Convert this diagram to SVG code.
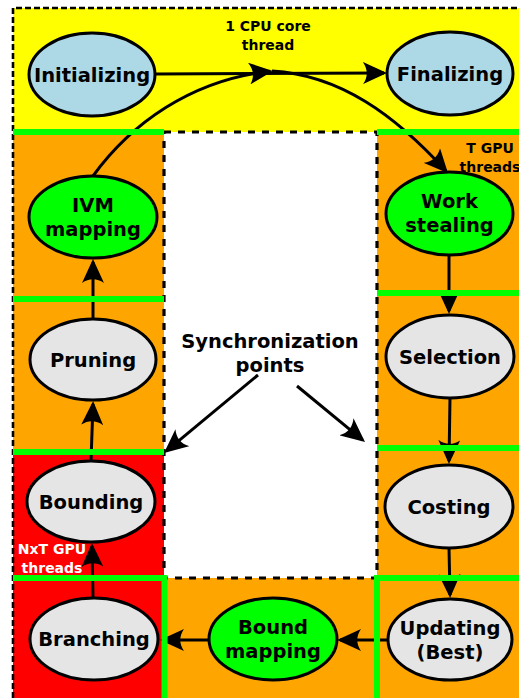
<svg xmlns="http://www.w3.org/2000/svg" width="519" height="698" viewBox="0 0 519 698">
<style>
.node{stroke:#000;stroke-width:3}
.blue{fill:#add8e6}
.grn{fill:#00ff00}
.gray{fill:#e5e5e5}
.lbl{font-family:"DejaVu Sans",Verdana,sans-serif;font-weight:bold;font-size:19.5px;text-anchor:middle;fill:#000}
.small{font-family:"DejaVu Sans",Verdana,sans-serif;font-weight:bold;font-size:14px;text-anchor:middle}
.edge{fill:none;stroke:#000;stroke-width:3;marker-end:url(#ah)}
.dash-outer{fill:none;stroke:#000;stroke-width:2.6;stroke-dasharray:6,3}
.dash-inner{fill:none;stroke:#000;stroke-width:3.2;stroke-dasharray:7,7}
.gl{stroke:#00ff00;stroke-width:6;fill:none}
</style>
<defs>
<marker id="ah" markerUnits="userSpaceOnUse" viewBox="0 0 24 22" refX="21" refY="11" markerWidth="24" markerHeight="22" orient="auto">
<path d="M24,11 L0,0 C5,7 5,15 0,22 Z" fill="#000"/>
</marker>
</defs>
<rect width="519" height="698" fill="#fff"/>
<g id="regions">
<rect x="13" y="8" width="506" height="124" fill="#ffff00"/>
<rect x="13" y="132" width="151" height="320" fill="#ffa500"/>
<rect x="13" y="452" width="151" height="246" fill="#ff0000"/>
<rect x="164" y="578" width="213" height="120" fill="#ffa500"/>
<rect x="377" y="132" width="142" height="566" fill="#ffa500"/>
<rect x="164" y="132" width="213" height="446" fill="#fff"/>
<path class="dash-outer" d="M13,698 V8 H519"/>
<rect class="dash-inner" x="164" y="132" width="213" height="446"/>
</g>
<g id="connectors">
<path class="edge" d="M155,74 L384,73"/>
<path class="edge" d="M93,176 C130,125 190,80 270,71.3"/>
<path class="edge" d="M272,71 C340,75 395,115 446,171"/>
<path class="edge" d="M449,255 L449,311"/>
<path class="edge" d="M450,398 L449,461"/>
<path class="edge" d="M449,548 L450,595"/>
<path class="edge" d="M388,640 L340,640"/>
<path class="edge" d="M209,640 L163,640"/>
<path class="edge" d="M93,598 L92,546"/>
<path class="edge" d="M91,461 L93,404"/>
<path class="edge" d="M93,319 L93,262"/>
<path class="edge" d="M258,375 L166.3,451.1"/>
<path class="edge" d="M297,386 L362.7,440.1"/>
</g>
<g id="sync-lines">
<path class="gl" d="M13,132 H164"/>
<path class="gl" d="M13,299 H164"/>
<path class="gl" d="M13,452 H164"/>
<path class="gl" d="M13,578 H164.5 V698"/>
<path class="gl" d="M377,132 H519"/>
<path class="gl" d="M377,293 H519"/>
<path class="gl" d="M377,448 H519"/>
<path class="gl" d="M377,698 V578 H519"/>
</g>
<g id="n-init"><ellipse class="node blue" cx="92" cy="74.5" rx="63" ry="41.5"/><text class="lbl" x="92" y="81.5">Initializing</text></g>
<g id="n-final"><ellipse class="node blue" cx="450" cy="73.5" rx="63" ry="41.5"/><text class="lbl" x="450" y="80.5">Finalizing</text></g>
<g id="n-ivm"><ellipse class="node grn" cx="93" cy="217" rx="64" ry="41"/><text class="lbl" x="93" y="212">IVM</text><text class="lbl" x="93" y="236">mapping</text></g>
<g id="n-prune"><ellipse class="node gray" cx="93" cy="359.5" rx="63" ry="40.5"/><text class="lbl" x="93" y="366.5">Pruning</text></g>
<g id="n-bound"><ellipse class="node gray" cx="91" cy="501.5" rx="64" ry="40.5"/><text class="lbl" x="91" y="508.5">Bounding</text></g>
<g id="n-branch"><ellipse class="node gray" cx="94" cy="639" rx="64" ry="41"/><text class="lbl" x="94" y="646">Branching</text></g>
<g id="n-bmap"><ellipse class="node grn" cx="273" cy="639" rx="64" ry="41"/><text class="lbl" x="273" y="634">Bound</text><text class="lbl" x="273" y="658">mapping</text></g>
<g id="n-ws"><ellipse class="node grn" cx="449.5" cy="213.5" rx="63.5" ry="41.5"/><text class="lbl" x="449.5" y="207.5">Work</text><text class="lbl" x="449.5" y="231.5">stealing</text></g>
<g id="n-sel"><ellipse class="node gray" cx="450" cy="356.5" rx="64" ry="41.5"/><text class="lbl" x="450" y="363.5">Selection</text></g>
<g id="n-cost"><ellipse class="node gray" cx="449" cy="506.5" rx="64" ry="41.5"/><text class="lbl" x="449" y="513.5">Costing</text></g>
<g id="n-upd"><ellipse class="node gray" cx="450" cy="639.5" rx="62" ry="40.5"/><text class="lbl" x="450" y="635">Updating</text><text class="lbl" x="450" y="658.5">(Best)</text></g>
<g id="labels">
<text class="small" x="268" y="31" fill="#000">1 CPU core</text>
<text class="small" x="268" y="50" fill="#000">thread</text>
<text class="small" x="490" y="153" fill="#000">T GPU</text>
<text class="small" x="490" y="172" fill="#000">threads</text>
<text class="small" x="52" y="554" fill="#fff">NxT GPU</text>
<text class="small" x="52" y="573" fill="#fff">threads</text>
<text class="lbl" x="270" y="348">Synchronization</text>
<text class="lbl" x="270" y="372">points</text>
</g>
</svg>
